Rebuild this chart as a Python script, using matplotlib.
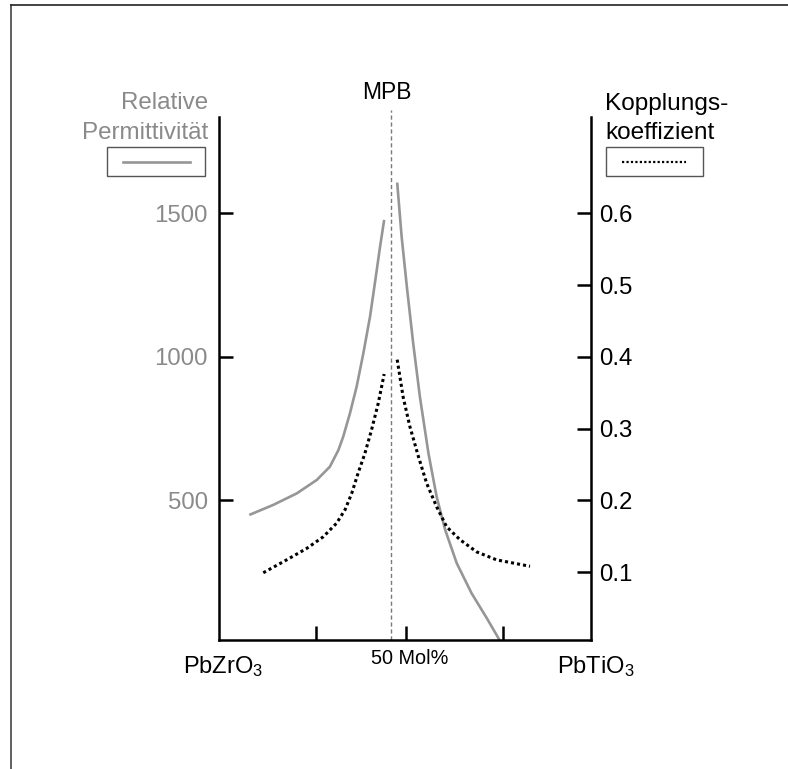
import matplotlib
matplotlib.use("Agg")
import matplotlib.pyplot as plt
from matplotlib.lines import Line2D
from matplotlib.patches import Rectangle

plt.rcParams["font.family"] = ["Liberation Sans", "DejaVu Sans"]
plt.rcParams["mathtext.fontset"] = "custom"
plt.rcParams["mathtext.rm"] = "Liberation Sans"
plt.rcParams["mathtext.it"] = "Liberation Sans:italic"
plt.rcParams["mathtext.bf"] = "Liberation Sans:bold"

# Zusammensetzung in Mol% PbTiO3
perm_left_x = [8.15, 14.6, 20.9, 26.3, 29.8, 32.1, 33.4, 35.2, 37.0, 38.8,
               40.6, 41.9, 43.3, 44.4]
perm_left = [449, 484, 524, 571, 617, 675, 722, 803, 896, 1012,
             1140, 1256, 1384, 1477]
perm_right_x = [47.9, 49.1, 50.5, 52.2, 54.0, 56.3, 58.5, 60.8, 63.9, 67.9,
                72.0, 75.5]
perm_right = [1607, 1418, 1244, 1047, 861, 664, 513, 397, 281, 176,
              89, 11]

k_left_x = [11.9, 18.2, 23.6, 28.0, 31.6, 33.9, 35.7, 37.4, 39.2, 41.0,
            42.8, 44.4]
k_left = [0.099, 0.117, 0.133, 0.149, 0.168, 0.187, 0.210, 0.238, 0.265,
          0.298, 0.335, 0.376]
k_right_x = [47.9, 49.5, 51.3, 53.6, 55.8, 58.5, 61.2, 64.8, 69.3, 74.6, 83.6]
k_right = [0.396, 0.344, 0.303, 0.261, 0.224, 0.191, 0.163, 0.145, 0.128,
           0.117, 0.108]

perm_ticks = [500, 1000, 1500]
k_ticks = [0.1, 0.2, 0.3, 0.4, 0.5, 0.6]
x_ticks = [26, 50.3, 76.3]
mpb_x = 46.2

W, H = 788, 769
GRAY = "#969696"
TXT_GRAY = "#8a8a8a"


def fx(px):
    return px / W


def fy(py):
    return 1 - py / H


fig = plt.figure(figsize=(W / 100, H / 100), dpi=100)
ax = fig.add_axes([fx(219), fy(640), fx(591) - fx(219), fy(117) - fy(640)])
ax2 = ax.twinx()

ax.plot(perm_left_x, perm_left, color=GRAY, lw=1.9, solid_capstyle="butt")
ax.plot(perm_right_x, perm_right, color=GRAY, lw=1.9, solid_capstyle="butt")
ax2.plot(k_left_x, k_left, color="black", lw=2.2, ls=(0, (1, 1)),
         dash_capstyle="butt")
ax2.plot(k_right_x, k_right, color="black", lw=2.2, ls=(0, (1, 1)),
         dash_capstyle="butt")

ax.axvline(mpb_x, ymin=0, ymax=1.014, color="#7a7a7a", lw=1.0,
           ls=(0, (3, 2)), clip_on=False)

ax.set_xlim(0, 100)
ax.set_ylim(13.2, 1835.5)
ax2.set_ylim(13.2 / 2500, 1835.5 / 2500)

ax.set_xticks(x_ticks)
ax.set_xticklabels([])
ax.set_yticks(perm_ticks)
ax.set_yticklabels([str(v) for v in perm_ticks])
ax2.set_yticks(k_ticks)
ax2.set_yticklabels([f"{v:.1f}" for v in k_ticks])

for a in (ax, ax2):
    a.spines["top"].set_visible(False)
    for s in a.spines.values():
        s.set_linewidth(1.8)
        s.set_color("black")
ax.spines["right"].set_visible(False)
ax2.spines["left"].set_visible(False)
ax2.spines["bottom"].set_visible(False)

ax.tick_params(axis="x", direction="in", length=10, width=1.8)
ax.tick_params(axis="y", direction="in", length=10, width=1.8, pad=8,
               labelsize=17.3, labelcolor=TXT_GRAY)
ax2.tick_params(axis="y", direction="in", length=10, width=1.8, pad=6,
                labelsize=17.3, labelcolor="black")

# Achsenbeschriftungen
fig.text(fx(208), fy(109), "Relative", ha="right", va="baseline",
         fontsize=17.4, color=TXT_GRAY)
fig.text(fx(208), fy(139), "Permittivität", ha="right", va="baseline",
         fontsize=17.4, color=TXT_GRAY)
fig.text(fx(605), fy(110), "Kopplungs-", ha="left", va="baseline",
         fontsize=17.6, color="black")
fig.text(fx(605), fy(139), "koeffizient", ha="left", va="baseline",
         fontsize=17.6, color="black")
fig.text(fx(387), fy(99), "MPB", ha="center", va="baseline",
         fontsize=16.5, color="black")
fig.text(fx(410), fy(664), "50 Mol%", ha="center", va="baseline",
         fontsize=14.3, color="black")
fig.text(fx(223), fy(673), r"PbZrO$_3$", ha="center", va="baseline",
         fontsize=17, color="black")
fig.text(fx(596), fy(673), r"PbTiO$_3$", ha="center", va="baseline",
         fontsize=17, color="black")

# Legendenkästchen
fig.add_artist(Rectangle((fx(107), fy(176)), fx(205) - fx(107),
                         fy(147) - fy(176), transform=fig.transFigure,
                         fill=False, edgecolor="#555555", lw=1.0))
fig.add_artist(Line2D([fx(123), fx(190)], [fy(162), fy(162)],
                      transform=fig.transFigure, color=GRAY, lw=1.9))
fig.add_artist(Rectangle((fx(606), fy(176)), fx(703) - fx(606),
                         fy(147) - fy(176), transform=fig.transFigure,
                         fill=False, edgecolor="#555555", lw=1.0))
fig.add_artist(Line2D([fx(622), fx(686)], [fy(162), fy(162)],
                      transform=fig.transFigure, color="black", lw=1.6,
                      ls=(0, (1, 1)), dash_capstyle="butt"))

# Rahmen oben und links
fig.add_artist(Line2D([fx(11), fx(11)], [fy(5), 0],
                      transform=fig.transFigure, color="#444444", lw=1.2))
fig.add_artist(Line2D([fx(11), 1], [fy(5), fy(5)],
                      transform=fig.transFigure, color="#222222", lw=1.2))

fig.savefig("out.png", dpi=100)
